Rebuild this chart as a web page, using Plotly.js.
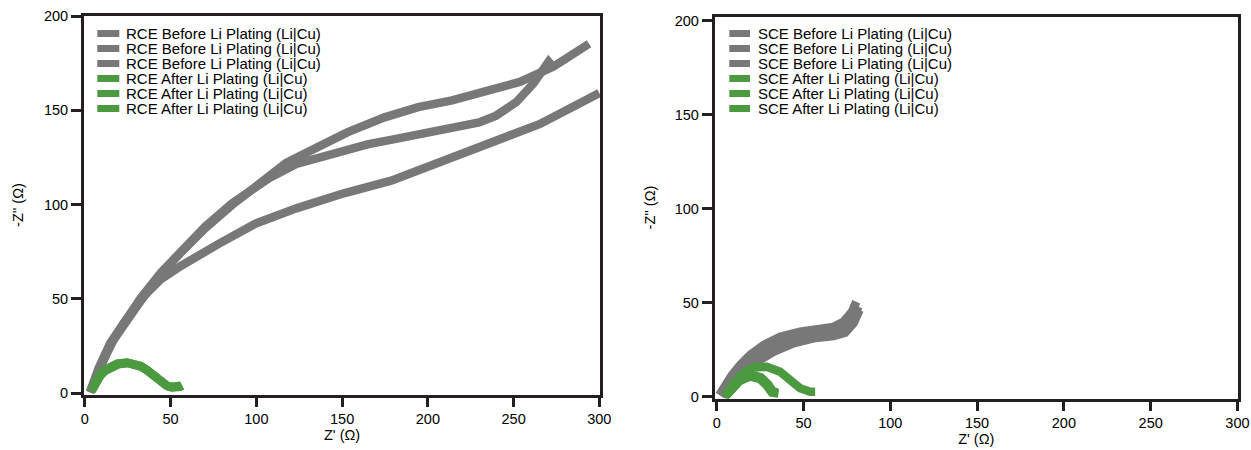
<!DOCTYPE html>
<html>
<head>
<meta charset="utf-8">
<script src="https://cdn.plot.ly/plotly-3.0.1.min.js"></script>
<style>
  html, body { margin: 0; padding: 0; background: #fff; }
  #chart { width: 1251px; height: 450px; }
</style>
</head>
<body>
<div id="chart"></div>
<script>
// ---------- data ----------
const xTickVals = [0, 50, 100, 150, 200, 250, 300];
const yTickVals = [0, 50, 100, 150, 200];

const rceNames = [
  "RCE Before Li Plating (Li|Cu)",
  "RCE Before Li Plating (Li|Cu)",
  "RCE Before Li Plating (Li|Cu)",
  "RCE After Li Plating (Li|Cu)",
  "RCE After Li Plating (Li|Cu)",
  "RCE After Li Plating (Li|Cu)"
];
const sceNames = [
  "SCE Before Li Plating (Li|Cu)",
  "SCE Before Li Plating (Li|Cu)",
  "SCE Before Li Plating (Li|Cu)",
  "SCE After Li Plating (Li|Cu)",
  "SCE After Li Plating (Li|Cu)",
  "SCE After Li Plating (Li|Cu)"
];

// RCE before plating
const rceBefore1X = [3, 7.9, 14.8, 22.7, 32.6, 44.4, 56.2, 70, 85.8, 99.7, 117.4, 135.2, 153, 174.7, 194.4, 214.1, 233.9, 253.6, 273.3, 294];
const rceBefore1Y = [0.5, 12.2, 25.6, 37.2, 49.7, 63.1, 74.8, 87.3, 99.8, 109.7, 122.2, 130.2, 138.3, 146.3, 151.7, 155.3, 159.7, 165.1, 173.2, 185.3];
const rceBefore2X = [3, 7.9, 14.8, 22.7, 32.6, 44.4, 56.2, 70, 85.8, 107.6, 123.3, 145, 164.8, 180.6, 212.2, 229.9, 239.8, 251.6, 261.5, 270.4, 273.5];
const rceBefore2Y = [0.5, 13, 26.5, 38, 50.5, 64, 75.7, 88.2, 100.7, 114.1, 121.6, 127.5, 132, 134.7, 140, 143.6, 147.2, 154.4, 164.2, 175.8, 172.5];
const rceBefore3X = [3, 8.9, 16.8, 24.7, 34.5, 44.4, 56.2, 78, 99.7, 123.3, 151, 178.6, 204.3, 233.9, 265.4, 300];
const rceBefore3Y = [0.5, 14, 28.3, 39, 51.5, 60.5, 67.6, 79.2, 90, 98, 106, 112.7, 121.3, 132, 142.8, 159.2];

// RCE after plating
const rceAfter1X = [3.9, 6, 8.9, 11.5, 14.8, 19, 24.7, 29, 32.6, 36, 39.5, 42.5, 45.4, 48, 50.3, 53, 55.3, 56.5];
const rceAfter1Y = [1.4, 5.5, 9.5, 12, 14, 15.5, 16.1, 15.6, 14.3, 12.4, 10, 7.5, 5, 3.8, 3.2, 3.1, 3.6, 4.2];
const rceAfter2X = [4, 6.2, 9, 11.8, 15, 19.5, 25, 29.5, 33, 36.5, 40, 43, 45.8, 48.5, 51, 53.5, 55.5, 56.8];
const rceAfter2Y = [1.2, 5.2, 9.2, 11.8, 13.8, 15.3, 16, 15.4, 14, 12, 9.6, 7.1, 4.8, 3.6, 3, 2.9, 3.4, 4];
const rceAfter3X = [3.8, 5.8, 8.7, 11.3, 14.6, 18.8, 24.5, 28.8, 32.3, 35.8, 39.2, 42.2, 45, 47.6, 50, 52.6, 55, 56.2];
const rceAfter3Y = [1.5, 5.7, 9.7, 12.2, 14.2, 15.7, 16.3, 15.8, 14.5, 12.6, 10.2, 7.7, 5.2, 4, 3.4, 3.3, 3.8, 4.4];

// SCE before plating
const sceBefore1X = [1.5, 4.8, 8.7, 13.4, 19.2, 26.9, 36.5, 48.1, 59.6, 67.3, 73, 77.9, 80.4];
const sceBefore1Y = [0.9, 6.2, 11.5, 16.9, 22.2, 27.5, 31.9, 34.6, 35.8, 37.2, 39.9, 45.2, 50.5];
const sceBefore2X = [2.5, 5.5, 9.6, 19.2, 28.9, 40.4, 53.8, 67.3, 73, 77.9, 81.7];
const sceBefore2Y = [0.5, 4.5, 8.9, 19.5, 25.7, 30.2, 32.8, 34, 35.8, 40.8, 47.9];
const sceBefore3X = [3.8, 8.7, 15.3, 23.1, 32.7, 44.2, 55.7, 67.3, 74, 78.8, 82.3];
const sceBefore3Y = [0, 5.3, 12.4, 18.6, 23.9, 28.4, 31.1, 32.3, 34, 39, 46.1];

// SCE after plating
const sceAfter1X = [4.8, 7.7, 13.4, 19.2, 25, 28.9, 31.7, 35.6];
const sceAfter1Y = [0, 3.2, 8.5, 10.8, 9.4, 5.9, 2.3, 1.8];
const sceAfter2X = [4.8, 9.6, 15.3, 21.1, 28.9, 36.5, 42.3, 48.1, 53.8, 56.7];
const sceAfter2Y = [0, 7.1, 12.4, 15.6, 16, 13.3, 8.9, 4.5, 2.7, 2.7];
const sceAfter3X = [4.8, 8.5, 14, 20, 25.5, 29.5, 32.3, 35];
const sceAfter3Y = [0, 4.5, 9.6, 11.8, 10.4, 6.8, 3, 2.3];

// ---------- styling ----------
const GRAY = "#787878";
const GREEN = "#4b9a40";
const AXIS = "#231f20";
const FONT = "Liberation Sans, Arial, Helvetica, sans-serif";
const LW = 8.5;
const W = 1251, H = 450;

function tr(x, y, name, color, xa, ya) {
  return {
    x: x, y: y, name: name, type: "scatter", mode: "lines",
    line: { color: color, width: LW },
    xaxis: xa, yaxis: ya, showlegend: false, hoverinfo: "x+y+name"
  };
}

const traces = [
  tr(rceBefore1X, rceBefore1Y, rceNames[0], GRAY, "x", "y"),
  tr(rceBefore2X, rceBefore2Y, rceNames[1], GRAY, "x", "y"),
  tr(rceBefore3X, rceBefore3Y, rceNames[2], GRAY, "x", "y"),
  tr(rceAfter1X, rceAfter1Y, rceNames[3], GREEN, "x", "y"),
  tr(rceAfter2X, rceAfter2Y, rceNames[4], GREEN, "x", "y"),
  tr(rceAfter3X, rceAfter3Y, rceNames[5], GREEN, "x", "y"),
  tr(sceBefore1X, sceBefore1Y, sceNames[0], GRAY, "x2", "y2"),
  tr(sceBefore2X, sceBefore2Y, sceNames[1], GRAY, "x2", "y2"),
  tr(sceBefore3X, sceBefore3Y, sceNames[2], GRAY, "x2", "y2"),
  tr(sceAfter1X, sceAfter1Y, sceNames[3], GREEN, "x2", "y2"),
  tr(sceAfter2X, sceAfter2Y, sceNames[4], GREEN, "x2", "y2"),
  tr(sceAfter3X, sceAfter3Y, sceNames[5], GREEN, "x2", "y2")
];

function axisBase(extra) {
  return Object.assign({
    showline: true, mirror: true, linecolor: AXIS, linewidth: 3,
    ticks: "outside", tickcolor: AXIS, tickwidth: 3, ticklen: 9,
    showgrid: false, zeroline: false, fixedrange: true,
    tickfont: { family: FONT, size: 14.5, color: "#000" }
  }, extra);
}

// custom legend (compact rows like the reference)
const shapes = [];
const annotations = [];
function addLegend(names, colors, sx0, sx1, tx) {
  names.forEach(function (n, i) {
    const yc = 33.5 + 15 * i;
    shapes.push({
      type: "rect", xref: "paper", yref: "paper",
      x0: sx0 / W, x1: sx1 / W, y0: 1 - (yc + 3.5) / H, y1: 1 - (yc - 3.5) / H,
      fillcolor: colors[i], line: { width: 0 }
    });
    annotations.push({
      xref: "paper", yref: "paper", x: tx / W, y: 1 - yc / H,
      xanchor: "left", yanchor: "middle", showarrow: false, borderpad: 0,
      text: n, font: { family: FONT, size: 15, color: "#000" }
    });
  });
}
const legendColors = [GRAY, GRAY, GRAY, GREEN, GREEN, GREEN];
addLegend(rceNames, legendColors, 97.3, 119.3, 124.5);
addLegend(sceNames, legendColors, 729.3, 750, 756.5);

const layout = {
  width: W, height: H,
  margin: { l: 0, r: 0, t: 0, b: 0 },
  paper_bgcolor: "#fff", plot_bgcolor: "#fff",
  showlegend: false,
  font: { family: FONT, size: 14.5, color: "#000" },
  xaxis: axisBase({
    domain: [84 / W, 600.2 / W], range: [-0.5, 300.5], anchor: "y",
    tickvals: xTickVals,
    title: { text: "Z' (Ω)", font: { family: FONT, size: 14.5 }, standoff: 3 }
  }),
  yaxis: axisBase({
    domain: [1 - 394.5 / H, 1 - 15.5 / H], range: [-0.7, 200.3], anchor: "x",
    tickvals: yTickVals, ticklen: 10,
    title: { text: "-Z'' (Ω)", font: { family: FONT, size: 14.5 }, standoff: 17 }
  }),
  xaxis2: axisBase({
    domain: [714.8 / W, 1237.8 / W], range: [-1.1, 300.2], anchor: "y2",
    tickvals: xTickVals,
    title: { text: "Z' (Ω)", font: { family: FONT, size: 14.5 }, standoff: 3 }
  }),
  yaxis2: axisBase({
    domain: [1 - 398.5 / H, 1 - 16.5 / H], range: [-0.9, 202.2], anchor: "x2",
    tickvals: yTickVals, ticklen: 10,
    title: { text: "-Z'' (Ω)", font: { family: FONT, size: 14.5 }, standoff: 16 }
  }),
  shapes: shapes,
  annotations: annotations
};

Plotly.newPlot("chart", traces, layout, { displayModeBar: false, staticPlot: true });
</script>
</body>
</html>
